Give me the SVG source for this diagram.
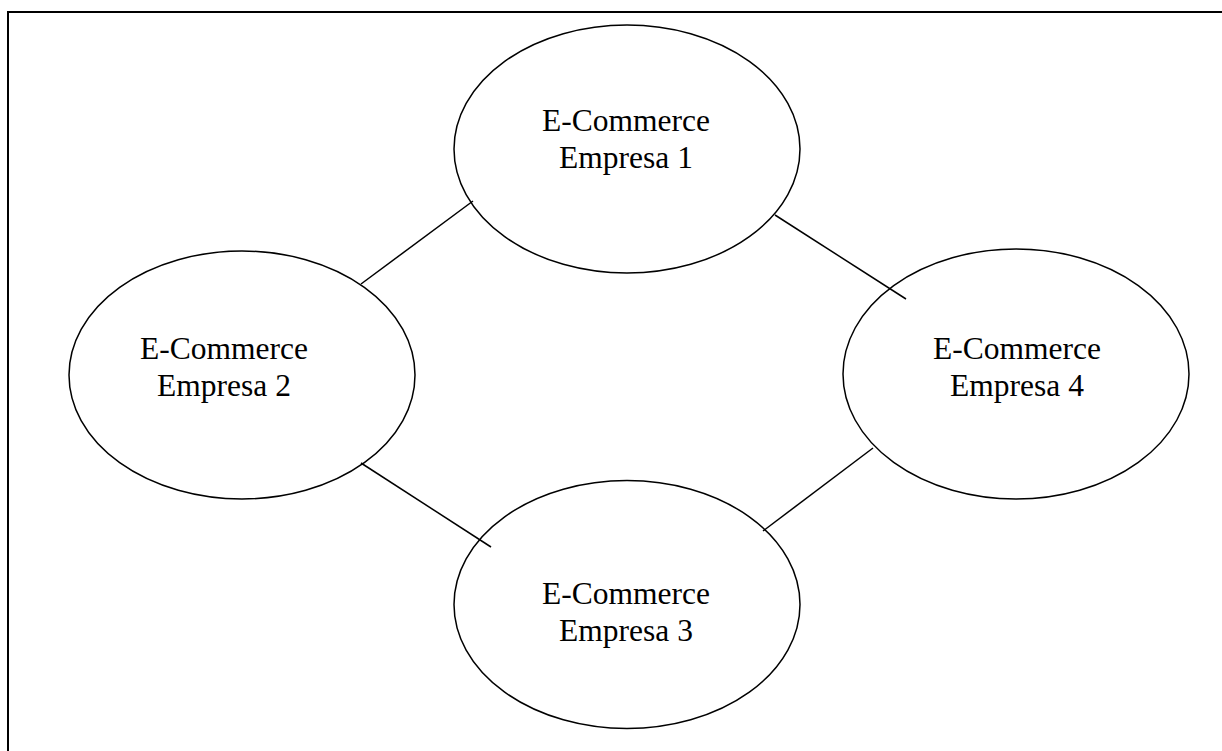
<svg xmlns="http://www.w3.org/2000/svg" width="1222" height="751" viewBox="0 0 1222 751">
  <style>
    .frame { fill: none; stroke: #000; stroke-width: 2; }
    .node ellipse { fill: none; stroke: #000; stroke-width: 1.5; }
    .node text { font-family: "Liberation Serif", "Times New Roman", serif; font-size: 31.5px; fill: #000; text-anchor: middle; }
    .links line { stroke: #000; stroke-width: 1.5; }
  </style>
  <rect width="1222" height="751" fill="#fff"/>
  <!-- outer frame: only top and left edges fall inside the canvas -->
  <path class="frame" d="M8 751 V12 H1222"/>

  <g class="links">
    <line x1="361" y1="284" x2="473" y2="201"/>
    <line x1="775" y1="215" x2="906" y2="299"/>
    <line x1="361" y1="463" x2="491" y2="547"/>
    <line x1="873" y1="448" x2="763" y2="531"/>
  </g>

  <g id="empresa1" class="node">
    <ellipse cx="627" cy="149" rx="173" ry="124"/>
    <text x="626" y="131">E-Commerce</text>
    <text x="626" y="167.5">Empresa 1</text>
  </g>
  <g id="empresa2" class="node">
    <ellipse cx="242" cy="375" rx="173" ry="124"/>
    <text x="224" y="359">E-Commerce</text>
    <text x="224" y="396">Empresa 2</text>
  </g>
  <g id="empresa3" class="node">
    <ellipse cx="627" cy="604.5" rx="173" ry="124"/>
    <text x="626" y="604">E-Commerce</text>
    <text x="626" y="641">Empresa 3</text>
  </g>
  <g id="empresa4" class="node">
    <ellipse cx="1016" cy="374" rx="173" ry="125"/>
    <text x="1017" y="359">E-Commerce</text>
    <text x="1017" y="396">Empresa 4</text>
  </g>
</svg>
